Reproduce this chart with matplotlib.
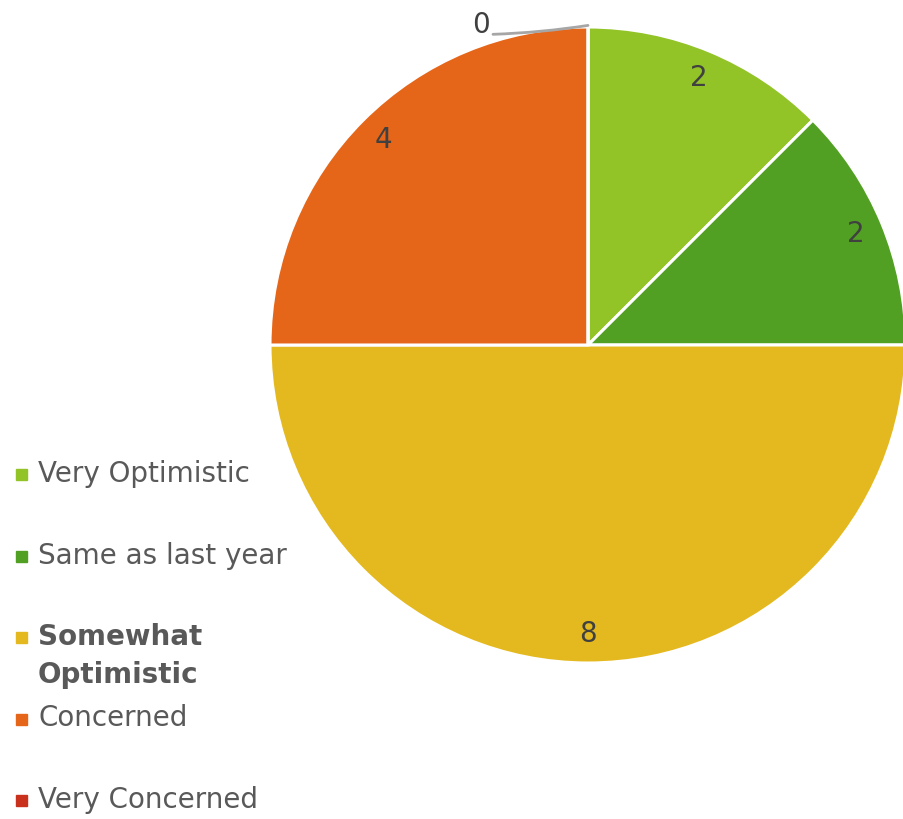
import numpy as np
import matplotlib.pyplot as plt
from matplotlib.patches import Rectangle

# Survey answers
categories = ['Very Optimistic', 'Same as last year', 'Somewhat\nOptimistic', 'Concerned', 'Very Concerned']
counts = [2, 2, 8, 4, 0]
colors = ['#92C327', '#52A023', '#E4B91F', '#E66619', '#C9311D']

W, H = 904, 819
text_col = '#595959'

fig = plt.figure(figsize=(W / 100, H / 100), dpi=100)
ax = fig.add_axes([0, 0, 1, 1])

# pie centre / radius in pixels -> set limits so that 1 data unit = radius
cx, cy, r = 588, 345, 318
shown = [c if c > 0 else 1e-9 for c in counts]
wedges, _ = ax.pie(shown, colors=colors, startangle=90, counterclock=False,
                   radius=1, wedgeprops=dict(edgecolor='white', linewidth=2.2))
ax.set_xlim(-cx / r, (W - cx) / r)
ax.set_ylim(-(H - cy) / r, cy / r)
ax.set_aspect('equal')
ax.axis('off')

# value labels
for w, v in zip(wedges, counts):
    ang = np.deg2rad((w.theta1 + w.theta2) / 2)
    if v > 0:
        ax.text(0.91 * np.cos(ang), 0.91 * np.sin(ang), str(v), ha='center', va='center',
                fontsize=20, color='#404040')
    else:
        # zero slice: label outside with a leader line
        ax.annotate(str(v), xy=(np.cos(ang), np.sin(ang) + 0.005),
                    xytext=(np.cos(ang) - 0.31, np.sin(ang) - 0.02),
                    ha='right', va='baseline', fontsize=20, color='#404040',
                    arrowprops=dict(arrowstyle='-', color='#A6A6A6', lw=2,
                                    shrinkA=0, shrinkB=0,
                                    connectionstyle='arc3,rad=0.03',
                                    relpos=(1.2, 0.18)))

# legend on the left
row_y = 474
for lab, col in zip(categories, colors):
    bold = '\n' in lab
    fig.patches.append(Rectangle((16 / W, 1 - (row_y + 6) / H), 11 / W, 11 / H,
                                 transform=fig.transFigure, color=col))
    for k, line in enumerate(lab.split('\n')):
        fig.text(38 / W, 1 - (row_y + k * 38) / H, line, ha='left', va='center',
                 fontsize=20, color=text_col, fontweight='bold' if bold else 'normal')
    row_y += 81.5

fig.savefig('out.png', dpi=100)
